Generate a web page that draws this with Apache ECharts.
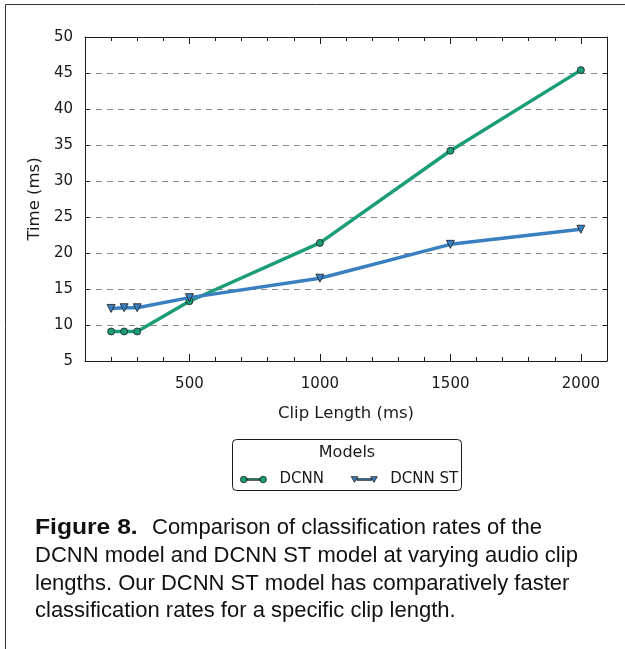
<!DOCTYPE html>
<html>
<head>
<meta charset="utf-8">
<script src="https://cdn.jsdelivr.net/npm/echarts@6/dist/echarts.min.js"></script>
<style>html,body{margin:0;padding:0;background:#fff;}#chart{width:625px;height:649px;}</style>
</head>
<body>
<div id="chart"></div>
<script>
const clipLengths = [200, 250, 300, 500, 1000, 1500, 2000];
const dcnn = [9.1, 9.1, 9.1, 13.3, 21.4, 34.2, 45.4];
const dcnnST = [12.3, 12.4, 12.4, 13.8, 16.5, 21.2, 23.3];
const xMajorTicks = [500, 1000, 1500, 2000];
const captionBold = 'Figure 8.';
const captionLines = [
  'Comparison of classification rates of the',
  'DCNN model and DCNN ST model at varying audio clip',
  'lengths. Our DCNN ST model has comparatively faster',
  'classification rates for a specific clip length.'
];

const green = '#1b9e77';
const blue = '#3a80c0';
const ink = '#1a1a1a';
const font = 'DejaVu Sans';
const capFont = 'Liberation Sans';

const chart = echarts.init(document.getElementById('chart'), null, {renderer: 'canvas'});

function xAxisBase(pos, extra) {
  return Object.assign({
    type: 'value', position: pos, min: 100, max: 2100, interval: 100,
    axisLine: {show: true, lineStyle: {color: ink, width: 1}},
    axisTick: {show: true, inside: true, length: 4, lineStyle: {color: ink, width: 1}},
    axisLabel: {show: false},
    splitLine: {show: false}
  }, extra || {});
}

function capText(x, y, text, bold, sx) {
  return {type: 'text', silent: true, x: x, y: y, scaleX: sx || 1,
    style: {text: text, fontFamily: capFont, fontSize: 22, fontWeight: bold ? 'bold' : 'normal',
      fill: '#111', verticalAlign: 'middle'}};
}

const option = {
  backgroundColor: '#fff',
  animation: false,
  grid: {left: 85, right: 18, top: 37, bottom: 288},
  xAxis: [
    xAxisBase('bottom', {
      name: 'Clip Length (ms)', nameLocation: 'middle', nameGap: 44,
      nameTextStyle: {fontFamily: font, fontSize: 16.5, color: ink},
      axisLabel: {show: true, margin: 16, fontFamily: font, fontSize: 15, color: ink,
        formatter: v => (xMajorTicks.indexOf(v) >= 0 ? String(v) : '')}
    }),
    xAxisBase('top'),
    xAxisBase('bottom', {axisLine: {show: false},
      axisTick: {show: true, inside: true, length: 7, customValues: xMajorTicks, lineStyle: {color: ink, width: 1}}}),
    xAxisBase('top', {axisLine: {show: false},
      axisTick: {show: true, inside: true, length: 7, customValues: xMajorTicks, lineStyle: {color: ink, width: 1}}})
  ],
  yAxis: [
    {
      type: 'value', position: 'left', min: 5, max: 50, interval: 5,
      name: 'Time (ms)', nameLocation: 'middle', nameGap: 39,
      nameTextStyle: {fontFamily: font, fontSize: 16.5, color: ink},
      axisLine: {show: true, lineStyle: {color: ink, width: 1}},
      axisTick: {show: true, inside: true, length: 4, lineStyle: {color: ink}},
      axisLabel: {margin: 12, fontFamily: font, fontSize: 15, color: ink},
      splitLine: {show: true, lineStyle: {color: '#8a8a8a', width: 1, type: [6, 5]}}
    },
    {
      type: 'value', position: 'right', min: 5, max: 50, interval: 5,
      axisLine: {show: true, lineStyle: {color: ink, width: 1}},
      axisTick: {show: true, inside: true, length: 4, lineStyle: {color: ink}},
      axisLabel: {show: false},
      splitLine: {show: false}
    }
  ],
  legend: {
    left: 235, top: 467, orient: 'horizontal',
    itemWidth: 26, itemHeight: 8, itemGap: 27,
    textStyle: {fontFamily: font, fontSize: 15, color: ink, padding: [0, 0, 0, 8]},
    itemStyle: {borderColor: ink, borderWidth: 0.8},
    data: [
      {name: 'DCNN', icon: 'path://M0,4 A4,4 0 1,1 8,4 A4,4 0 1,1 0,4 Z M8,3 L24,3 L24,5 L8,5 Z M24,4 A4,4 0 1,1 32,4 A4,4 0 1,1 24,4 Z'},
      {name: 'DCNN ST', icon: 'path://M0,0.5 L8,0.5 L4,7.5 Z M7,3 L25,3 L25,5 L7,5 Z M24,0.5 L32,0.5 L28,7.5 Z'}
    ]
  },
  graphic: [
    {type: 'rect', silent: true, shape: {x: 5.5, y: 4.5, width: 800, height: 800},
      style: {fill: 'none', stroke: '#333', lineWidth: 1}},
    {type: 'rect', silent: true, shape: {x: 232.5, y: 439.5, width: 229, height: 51, r: 4},
      style: {fill: '#fff', stroke: ink, lineWidth: 1}, z: -1},
    {type: 'text', silent: true, x: 347, y: 453,
      style: {text: 'Models', fontFamily: font, fontSize: 16, fill: ink, align: 'center', verticalAlign: 'middle'}},
    capText(35, 528, captionBold, true, 1.12),
    capText(152, 528, captionLines[0], false),
    capText(35, 556, captionLines[1], false),
    capText(35, 584, captionLines[2], false),
    capText(35, 611, captionLines[3], false)
  ],
  series: [
    {
      name: 'DCNN', type: 'line', xAxisIndex: 0, yAxisIndex: 0,
      data: clipLengths.map((x, i) => [x, dcnn[i]]),
      color: green,
      lineStyle: {color: green, width: 3.5},
      symbol: 'circle', symbolSize: 7,
      itemStyle: {color: green, borderColor: ink, borderWidth: 0.8},
      z: 3
    },
    {
      name: 'DCNN ST', type: 'line', xAxisIndex: 0, yAxisIndex: 0,
      data: clipLengths.map((x, i) => [x, dcnnST[i]]),
      color: blue,
      lineStyle: {color: blue, width: 3.5},
      symbol: 'triangle', symbolRotate: 180, symbolSize: 8,
      itemStyle: {color: blue, borderColor: ink, borderWidth: 0.8},
      z: 4
    }
  ]
};
chart.setOption(option);
</script>
</body>
</html>
